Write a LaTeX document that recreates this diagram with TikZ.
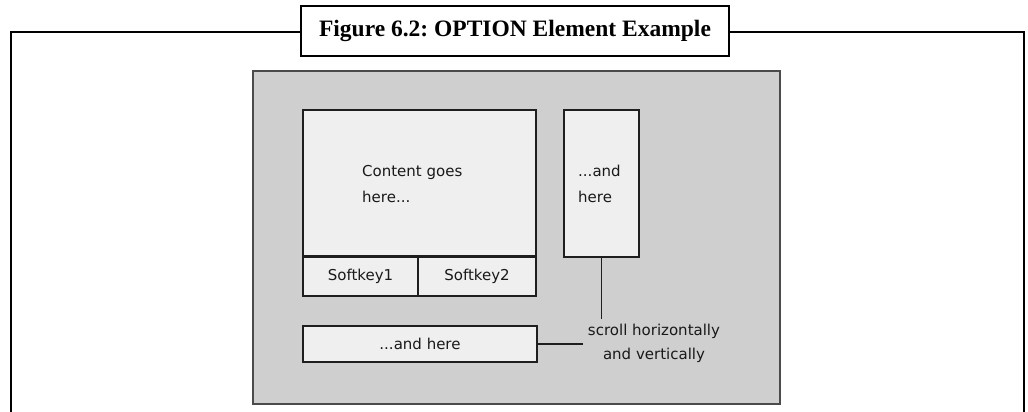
\documentclass[tikz,border=0pt]{standalone}
\usepackage{fontspec}
\setmainfont{DejaVu Sans}
\newfontfamily\titlefont{Liberation Serif}
\frenchspacing
\definecolor{panelgray}{HTML}{CFCFCF}
\definecolor{boxfill}{HTML}{EFEFEF}
\definecolor{edgedark}{HTML}{1E1E1E}
\begin{document}
\begin{tikzpicture}[x=1pt,y=-1pt,
  framebox/.style={draw=black,line width=2.6pt},
  titlebox/.style={draw=black,fill=white,line width=2.2pt,minimum width=428pt,minimum height=50pt,inner sep=0pt,
    font=\titlefont\bfseries\fontsize{23.5}{28}\selectfont},
  panel/.style={draw=edgedark!80,fill=panelgray,line width=1.2pt,minimum width=527pt,minimum height=333pt,inner sep=0pt},
  uibox/.style={draw=edgedark,fill=boxfill,line width=1.5pt,inner sep=0pt},
  uitext/.style={font=\fontsize{15}{26}\selectfont,text=black!90,inner sep=0pt},
  link/.style={draw=edgedark,line width=1.5pt}
]
\useasboundingbox (0,0) rectangle (1028,412);
\fill[white] (0,0) rectangle (1028,412);
% outer frame
\draw[framebox] (11,420) -- (11,32) -- (1024,32) -- (1024,420);
% title
\node[titlebox] (title) at (515,31) {Figure 6.2: OPTION Element Example};
% gray panel
\node[panel] (panel) at (516.5,237.5) {};
% content box and softkeys
\node[uibox,minimum width=233pt,minimum height=146pt] (content) at (419.5,183) {};
\node[uibox,minimum width=115pt,minimum height=40pt,uitext] (soft1) at (360.5,276) {Softkey1};
\node[uibox,minimum width=118pt,minimum height=40pt,uitext] (soft2) at (477,276) {Softkey2};
\draw[edgedark,line width=2.6pt] (content.south west) -- (content.south east);
\node[uitext,anchor=west,align=left] (contenttext) at (362,184) {Content goes\\here...};
% right box
\node[uibox,minimum width=75pt,minimum height=147pt] (rightbox) at (601.5,183.5) {};
\node[uitext,anchor=west,align=left] (righttext) at (578,184) {...and\\here};
% bottom box
\node[uibox,minimum width=234pt,minimum height=36pt,uitext] (andhere) at (420,344) {...and here};
% scroll label
\node[font=\fontsize{15}{24}\selectfont,text=black!90,align=center,inner sep=5pt] (scroll) at (654,343) {scroll horizontally\\and vertically};
% connectors
\draw[link] (rightbox.south) -- (rightbox.south |- scroll.north);
\draw[link] (andhere.east) -- (andhere.east -| scroll.west);
\end{tikzpicture}
\end{document}
